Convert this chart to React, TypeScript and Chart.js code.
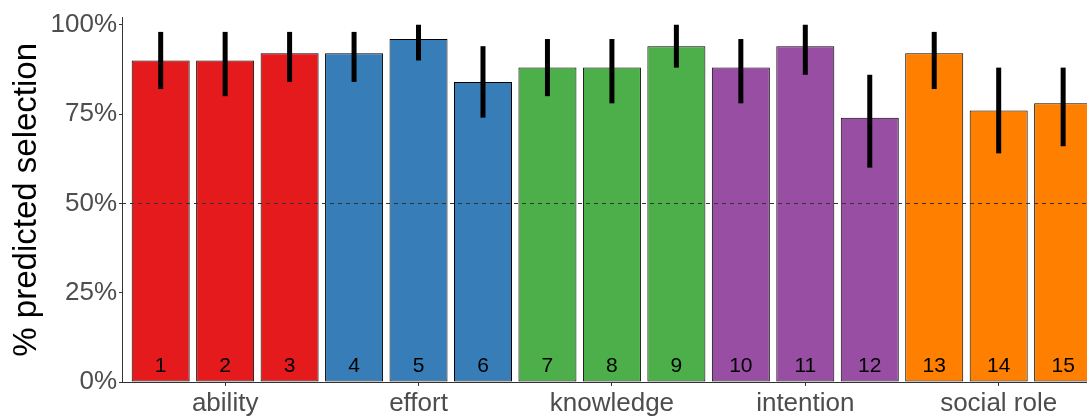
import React, { useEffect, useRef } from "react";
import { Chart, registerables } from "chart.js";

Chart.register(...registerables);

const groupNames = ["ability", "effort", "knowledge", "intention", "social role"];
const groupTickPositions = [2, 5, 8, 11, 14];
const groupColors = ["#E41A1C", "#377EB8", "#4DAF4A", "#984EA3", "#FF7F00"];

const itemNumbers = [1, 2, 3, 4, 5, 6, 7, 8, 9, 10, 11, 12, 13, 14, 15];
const itemGroup = [0, 0, 0, 1, 1, 1, 2, 2, 2, 3, 3, 3, 4, 4, 4];
const selectionPct = [90, 90, 92, 92, 96, 84, 88, 88, 94, 88, 94, 74, 92, 76, 78];
const lowerPct = [82, 80, 84, 84, 90, 74, 80, 78, 88, 78, 86, 60, 82, 64, 66];
const upperPct = [98, 98, 98, 98, 100, 94, 96, 96, 100, 96, 100, 86, 98, 88, 88];

const yTicks = [0, 25, 50, 75, 100];
const chancePct = 50;

const FONT = "'Liberation Sans', Arial, Helvetica, sans-serif";

const overlayPlugin = {
  id: "overlay",
  afterDatasetsDraw(chart: any) {
    const ctx = chart.ctx;
    const xs = chart.scales.x;
    const ys = chart.scales.y;
    const area = chart.chartArea;
    ctx.save();
    ctx.beginPath();
    ctx.rect(area.left, area.top - 20, area.right - area.left, area.bottom - area.top + 20);
    ctx.clip();

    // dashed reference line
    const y50 = ys.getPixelForValue(chancePct);
    ctx.strokeStyle = "#333333";
    ctx.lineWidth = 1;
    ctx.setLineDash([4, 4]);
    ctx.beginPath();
    ctx.moveTo(area.left, Math.round(y50) + 0.5);
    ctx.lineTo(area.right, Math.round(y50) + 0.5);
    ctx.stroke();
    ctx.setLineDash([]);

    // error bars
    ctx.strokeStyle = "#000000";
    ctx.lineWidth = 5;
    ctx.lineCap = "butt";
    itemNumbers.forEach((n, i) => {
      const x = xs.getPixelForValue(n);
      ctx.beginPath();
      ctx.moveTo(x, ys.getPixelForValue(lowerPct[i]));
      ctx.lineTo(x, ys.getPixelForValue(upperPct[i]));
      ctx.stroke();
    });

    // item numbers
    ctx.fillStyle = "#000000";
    ctx.font = `21px ${FONT}`;
    ctx.textAlign = "center";
    ctx.textBaseline = "alphabetic";
    const y0 = ys.getPixelForValue(0);
    itemNumbers.forEach((n) => {
      ctx.fillText(String(n), xs.getPixelForValue(n), y0 - 10);
    });
    ctx.restore();
  },
};

export default function App() {
  const ref = useRef<HTMLCanvasElement | null>(null);

  useEffect(() => {
    if (!ref.current) return;
    const chart = new Chart(ref.current, {
      type: "bar",
      data: {
        datasets: [
          {
            data: itemNumbers.map((n, i) => ({ x: n, y: selectionPct[i] })),
            backgroundColor: itemGroup.map((g) => groupColors[g]),
            borderColor: "#000000",
            borderWidth: 1,
            borderSkipped: false,
            barPercentage: 0.9,
            categoryPercentage: 1,
          } as any,
        ],
      },
      options: {
        responsive: false,
        animation: false,
        layout: { padding: { top: 16, left: 0, right: 0, bottom: 0 } },
        plugins: {
          legend: { display: false },
          tooltip: { enabled: false },
        },
        scales: {
          x: {
            type: "linear",
            min: 0.4,
            max: 15.37,
            offset: false,
            grid: {
              offset: false,
              drawOnChartArea: false,
              drawTicks: true,
              tickLength: 4,
              color: "#333333",
            },
            border: { display: true, color: "#333333", width: 1 },
            afterBuildTicks: (scale: any) => {
              scale.ticks = groupTickPositions.map((v) => ({ value: v }));
            },
            afterFit: (scale: any) => {
              scale.height = 35;
            },
            ticks: {
              autoSkip: false,
              maxRotation: 0,
              padding: 2,
              color: "#4D4D4D",
              font: { family: FONT, size: 26 },
              callback: (_v: any, idx: number) => groupNames[idx],
            },
          },
          y: {
            type: "linear",
            min: 0,
            max: 102,
            grid: {
              drawOnChartArea: false,
              drawTicks: true,
              tickLength: 3,
              color: "#333333",
            },
            border: { display: true, color: "#333333", width: 1 },
            afterBuildTicks: (scale: any) => {
              scale.ticks = yTicks.map((v) => ({ value: v }));
            },
            afterFit: (scale: any) => {
              scale.width = 122;
            },
            ticks: {
              padding: 2,
              color: "#4D4D4D",
              font: { family: FONT, size: 26 },
              callback: (v: any) => `${v}%`,
            },
            title: {
              display: true,
              text: "% predicted selection",
              color: "#000000",
              font: { family: FONT, size: 33 },
              padding: { top: 7, bottom: 0 },
            },
          },
        },
      },
      plugins: [overlayPlugin],
    });
    return () => chart.destroy();
  }, []);

  return (
    <div style={{ position: "fixed", left: 0, top: 0, width: 1087, height: 417, background: "#fff" }}>
      <canvas ref={ref} width={1087} height={417} />
    </div>
  );
}
